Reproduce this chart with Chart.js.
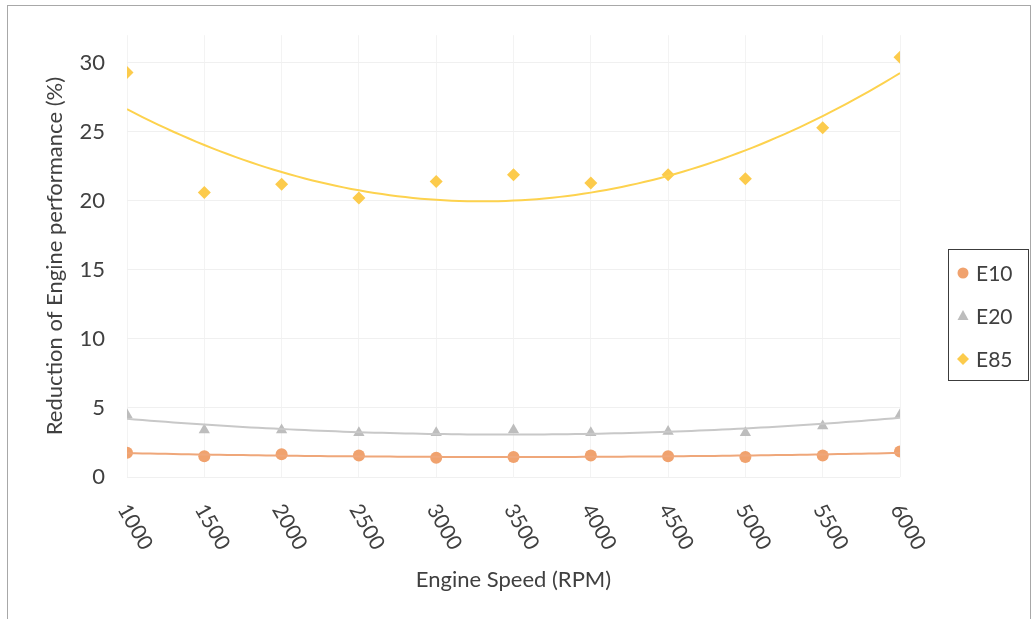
<!DOCTYPE html>
<html>
<head>
<meta charset="utf-8">
<script src="https://cdn.jsdelivr.net/npm/chart.js@4.4.1/dist/chart.umd.min.js"></script>
<style>
  html, body { margin: 0; padding: 0; background: #ffffff; }
  #wrap { position: relative; width: 1036px; height: 619px; }
</style>
</head>
<body>
<div id="wrap"><canvas id="perfChart" width="1036" height="619"></canvas></div>
<script>
// ---------------- data ----------------
const speeds = [1000, 1500, 2000, 2500, 3000, 3500, 4000, 4500, 5000, 5500, 6000];
const e10 = [1.75, 1.5, 1.65, 1.55, 1.4, 1.45, 1.55, 1.5, 1.45, 1.55, 1.85];
const e20 = [4.5, 3.4, 3.4, 3.2, 3.2, 3.4, 3.2, 3.3, 3.2, 3.7, 4.5];
const e85 = [29.3, 20.6, 21.2, 20.2, 21.4, 21.9, 21.3, 21.9, 21.6, 25.3, 30.4];
const seriesNames = ['E10', 'E20', 'E85'];
const yTickValues = [0, 5, 10, 15, 20, 25, 30];
const xTickValues = speeds;

const markerColors = ['#F0A26E', '#BDBDBD', '#FCCB4C'];
const lineColors = ['#EFA77A', '#C8C8C8', '#FDD24E'];
const pointStyles = ['circle', 'triangle', 'rectRot'];

//############ 2nd order polynomial trendline (like the spreadsheet one) ############
const polyFit2 = (xs, ys) => {
    const u = xs.map(x => x / 1000);
    let s = [0, 0, 0, 0, 0], t = [0, 0, 0];
    u.forEach((x, i) => {
        for (let k = 0; k < 5; k++) s[k] += Math.pow(x, k);
        for (let k = 0; k < 3; k++) t[k] += ys[i] * Math.pow(x, k);
    });
    const m = [[s[0], s[1], s[2], t[0]], [s[1], s[2], s[3], t[1]], [s[2], s[3], s[4], t[2]]];
    for (let c = 0; c < 3; c++) {
        for (let r = c + 1; r < 3; r++) {
            const f = m[r][c] / m[c][c];
            for (let k = c; k < 4; k++) m[r][k] -= f * m[c][k];
        }
    }
    const a = [0, 0, 0];
    for (let r = 2; r >= 0; r--) {
        let v = m[r][3];
        for (let k = r + 1; k < 3; k++) v -= m[r][k] * a[k];
        a[r] = v / m[r][r];
    }
    return x => a[0] + a[1] * (x / 1000) + a[2] * Math.pow(x / 1000, 2);
};

const trendPoints = (ys) => {
    const f = polyFit2(speeds, ys);
    const pts = [];
    for (let x = speeds[0]; x <= speeds[speeds.length - 1]; x += 50) pts.push({ x: x, y: f(x) });
    return pts;
};

const allSeries = [e10, e20, e85];

const datasets = [];
allSeries.forEach((ys, i) => {
    datasets.push({
        label: seriesNames[i] + ' trend',
        type: 'line',
        data: trendPoints(ys),
        borderColor: lineColors[i],
        borderWidth: 2,
        pointRadius: 0,
        fill: false,
        tension: 0,
    });
});
allSeries.forEach((ys, i) => {
    datasets.push({
        label: seriesNames[i],
        data: speeds.map((x, j) => ({ x: x, y: ys[j] })),
        pointStyle: pointStyles[i],
        pointRadius: i === 0 ? 6 : 6.5,
        backgroundColor: markerColors[i],
        borderColor: markerColors[i],
        borderWidth: 0,
        showLine: false,
    });
});

const FONT = 'Lato, "Open Sans", sans-serif';

//############ plugin: outer frame, rotated x labels, boxed legend ############
const decorPlugin = {
    id: 'decor',
    beforeDraw(chart) {
        const ctx = chart.ctx;
        ctx.save();
        ctx.fillStyle = '#ffffff';
        ctx.fillRect(0, 0, chart.width, chart.height);
        ctx.strokeStyle = '#a8a8a8';
        ctx.lineWidth = 1;
        ctx.strokeRect(7.5, 5.5, 1023, 640);
        ctx.restore();
    },
    afterDraw(chart) {
        const ctx = chart.ctx;
        const xs = chart.scales.x;
        const bottom = chart.chartArea.bottom;
        ctx.save();
        ctx.fillStyle = '#404040';
        ctx.font = '21px ' + FONT;
        ctx.textAlign = 'center';
        ctx.textBaseline = 'middle';
        xTickValues.forEach(v => {
            const px = xs.getPixelForValue(v);
            ctx.save();
            ctx.translate(px + 8, bottom + 50);
            ctx.rotate(Math.PI / 3);
            ctx.fillText(String(v), 0, 0);
            ctx.restore();
        });
        ctx.restore();

        // legend box
        ctx.save();
        ctx.strokeStyle = '#3c3c3c';
        ctx.lineWidth = 1;
        ctx.strokeRect(948.5, 249.5, 80, 131);
        ctx.font = '21px ' + FONT;
        ctx.textAlign = 'left';
        ctx.textBaseline = 'middle';
        seriesNames.forEach((name, i) => {
            const cy = 273 + i * 43;
            const cx = 963;
            ctx.fillStyle = markerColors[i];
            ctx.beginPath();
            if (pointStyles[i] === 'circle') {
                ctx.arc(cx, cy, 5.5, 0, Math.PI * 2);
            } else if (pointStyles[i] === 'triangle') {
                ctx.moveTo(cx, cy - 6);
                ctx.lineTo(cx + 5.5, cy + 4);
                ctx.lineTo(cx - 5.5, cy + 4);
            } else {
                ctx.moveTo(cx, cy - 6);
                ctx.lineTo(cx + 6, cy);
                ctx.lineTo(cx, cy + 6);
                ctx.lineTo(cx - 6, cy);
            }
            ctx.closePath();
            ctx.fill();
            ctx.fillStyle = '#404040';
            ctx.fillText(name, 976, cy + 1);
        });
        ctx.restore();
    },
};

const perfChart = new Chart(document.getElementById('perfChart'), {
    type: 'scatter',
    data: { datasets: datasets },
    plugins: [decorPlugin],
    options: {
        responsive: false,
        animation: false,
        layout: { padding: { left: 38, right: 136, top: 0, bottom: 22 } },
        plugins: {
            legend: { display: false },
            tooltip: { enabled: false },
        },
        scales: {
            x: {
                type: 'linear',
                min: 1000,
                max: 6000,
                afterBuildTicks: (scale) => {
                    scale.ticks = xTickValues.map(v => ({ value: v }));
                },
                afterFit: (scale) => { scale.height = 120; },
                ticks: { display: false },
                grid: { color: '#f3f3f3', drawTicks: false },
                border: { display: false },
                title: {
                    display: true,
                    text: 'Engine Speed (RPM)',
                    color: '#404040',
                    font: { family: FONT, size: 22 },
                    padding: { top: 4, bottom: 4 },
                },
            },
            y: {
                min: 0,
                max: 32,
                afterBuildTicks: (scale) => {
                    scale.ticks = yTickValues.map(v => ({ value: v }));
                },
                afterFit: (scale) => { scale.width = 89; },
                ticks: {
                    color: '#404040',
                    font: { family: FONT, size: 22 },
                    padding: 22,
                },
                grid: { color: '#f0f0f0', drawTicks: false },
                border: { display: false },
                title: {
                    display: true,
                    text: 'Reduction of Engine performance (%)',
                    color: '#404040',
                    font: { family: FONT, size: 22 },
                    padding: { top: 4, bottom: 4 },
                },
            },
        },
    },
});
</script>
</body>
</html>
